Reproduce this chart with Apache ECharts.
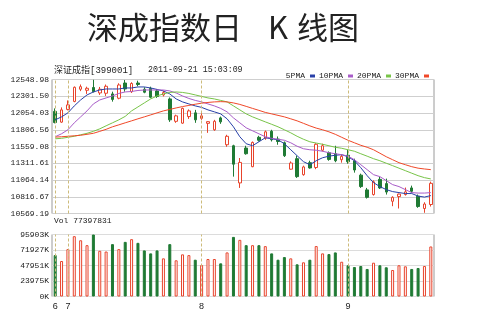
<!DOCTYPE html>
<html>
<head>
<meta charset="utf-8">
<script src="https://cdn.jsdelivr.net/npm/echarts@6/dist/echarts.min.js"></script>
<style>
html,body{margin:0;padding:0;background:#fff;}
#main{width:480px;height:314px;}
</style>
</head>
<body>
<div id="main"></div>
<script>
// trading days 2011-06-29 .. 2011-09-21
var dates = ['06-29','06-30',
  '07-01','07-04','07-05','07-06','07-07','07-08','07-11','07-12','07-13','07-14','07-15',
  '07-18','07-19','07-20','07-21','07-22','07-25','07-26','07-27','07-28','07-29',
  '08-01','08-02','08-03','08-04','08-05','08-08','08-09','08-10','08-11','08-12',
  '08-15','08-16','08-17','08-18','08-19','08-22','08-23','08-24','08-25','08-26',
  '08-29','08-30','08-31',
  '09-01','09-02','09-05','09-06','09-07','09-08','09-09','09-13','09-14','09-15',
  '09-16','09-19','09-20','09-21'];

var opens = [12078,11919,12107,12225,12405,12390,12431,12350,12346,12336,
  12272,12497,12369,12497,12405,12417,12380,12321,12262,11931,
  11904,12001,12056,11975,11901,11806,11982,11585,11570,11021,
  11536,11261,11695,11683,11784,11669,11614,11224,11379,11143,
  11320,11249,11504,11467,11452,11364,11430,11346,11136,10918,
  10849,11074,11011,10750,10819,10849,10947,10824,10643,10702];
var closes = [11913,12100,12174,12434,12443,12419,12369,12405,12449,12255,
  12468,12409,12490,12475,12361,12287,12299,12355,11953,12012,
  12122,12085,11953,12012,11926,11931,11923,11710,11298,11324,
  11452,11619,11651,11776,11658,11633,11423,11315,11114,11257,
  11242,11592,11570,11368,11349,11413,11335,11212,10967,10808,
  11037,10947,10886,10808,10856,10889,10897,10672,10709,11015];
var lows = [11901,11909,12093,12213,12377,12336,12358,12321,12306,12222,
  12257,12369,12350,12449,12346,12272,12277,12299,11923,11909,
  11894,11967,11909,11953,11761,11791,11894,11555,11114,10947,
  11438,11253,11633,11658,11633,11585,11404,11217,11095,11128,
  11232,11224,11486,11349,11327,11320,11305,11173,10947,10790,
  10834,10932,10849,10677,10643,10834,10874,10653,10580,10672];
var highs = [12122,12137,12240,12446,12475,12443,12545,12439,12475,12369,
  12493,12542,12508,12531,12434,12443,12409,12380,12284,12029,
  12134,12107,12100,12060,11934,11953,12001,11732,11585,11389,
  11570,11633,11717,11795,11806,11707,11633,11339,11423,11276,
  11349,11607,11600,11486,11570,11438,11511,11379,11158,10947,
  11059,11109,11084,10824,10863,10952,10981,10849,10735,11040];

// volume in K
var volumes = [64100,54900,73300,93300,87000,79400,95903,70700,69600,81000,
  73300,84500,88700,83000,71300,66700,71300,59000,81000,56000,
  65200,64000,56900,48700,58000,58000,51300,68200,92200,87600,
  79400,79400,79400,77900,66700,56900,61000,59000,49800,52900,
  56900,78000,66700,65600,68200,53800,48300,45600,47200,42600,
  52300,48300,45200,41000,48300,46700,42600,44100,47200,77398];

var ma5 = [11953,11997,12056,12159,12247,12321,12365,12394,12409,12409,
  12409,12424,12424,12439,12439,12424,12402,12380,12336,12262,
  12218,12188,12159,12137,12100,12071,12041,11968,11850,11703,
  11600,11570,11629,11688,11673,11658,11600,11511,11423,11335,
  11290,11349,11393,11416,11430,11438,11408,11349,11246,11128,
  11025,10967,10922,10893,10878,10864,10864,10827,10812,10834];
var ma10 = [11703,11747,11806,11909,11997,12085,12188,12247,12277,12306,
  12343,12365,12372,12387,12394,12394,12394,12394,12380,12350,
  12306,12269,12240,12218,12188,12159,12122,12071,11982,11909,
  11835,11791,11747,11703,11680,11666,11651,11614,11563,11526,
  11511,11504,11489,11467,11452,11438,11416,11364,11290,11217,
  11143,11114,11055,10996,10967,10922,10878,10871,10871,10878];
var ma20 = [11673,11680,11695,11710,11732,11754,11783,11820,11865,11909,
  11953,12004,12085,12144,12203,12262,12306,12336,12358,12365,
  12358,12343,12321,12299,12277,12262,12240,12218,12159,12100,
  12041,11997,11960,11923,11887,11850,11806,11761,11710,11666,
  11629,11610,11592,11570,11548,11533,11511,11489,11452,11416,
  11379,11349,11312,11276,11239,11202,11165,11128,11099,11080];
var ma30 = [11698,11703,11710,11717,11725,11739,11754,11783,11813,11850,
  11879,11909,11938,11968,11997,12026,12056,12085,12107,12129,
  12149,12166,12184,12199,12210,12218,12222,12218,12203,12181,
  12152,12122,12093,12063,12041,12019,11997,11968,11938,11901,
  11864,11831,11806,11776,11739,11695,11651,11614,11577,11548,
  11511,11460,11408,11364,11320,11290,11261,11239,11227,11217];

var priceTicks = ['10569.19','10816.67','11064.14','11311.61','11559.08','11806.56','12054.03','12301.50','12548.98'];
var volTicks = ['0K','23975K','47951K','71927K','95903K'];

var pMin = 10569.19, pMax = 12548.98, pStep = (pMax - pMin) / 8;
var vMax = 95903, vStep = vMax / 4;

var UP = '#e8442c', DOWN = '#1f7a34';
var MONO = "'Liberation Mono','Noto Sans CJK SC',monospace";
var TITLE_FONT = "31px 'Noto Sans CJK SC'";

var candleData = [], volData = [], monthMarks = [];
for (var i = 0; i < dates.length; i++) {
  candleData.push([opens[i], closes[i], lows[i], highs[i]]);
  var up = closes[i] >= opens[i];
  volData.push({value: volumes[i], itemStyle: {color: up ? '#fff' : DOWN, borderColor: up ? UP : DOWN, borderWidth: 1}});
  if (i == 0 || dates[i].slice(0, 2) != dates[i - 1].slice(0, 2)) monthMarks.push({xAxis: dates[i]});
}

var dashStyle = {color: '#cdbb7a', type: [3, 2], width: 1};

var chart = echarts.init(document.getElementById('main'), null, {renderer: 'canvas'});
chart.setOption({
  animation: false,
  backgroundColor: '#fff',
  graphic: [
    {type: 'text', left: 87, top: 12, style: {text: '深成指数日', font: TITLE_FONT, fill: '#222'}},
    {type: 'text', left: 268, top: 12, style: {text: 'K', font: TITLE_FONT, fill: '#222'}},
    {type: 'text', left: 297, top: 12, style: {text: '线图', font: TITLE_FONT, fill: '#222'}},
    {type: 'text', left: 54, top: 66, style: {text: '深证成指[399001]', font: '9px ' + MONO, fill: '#222'}},
    {type: 'text', left: 148, top: 66, style: {text: '2011-09-21 15:03:09', font: '8.3px ' + MONO, fill: '#222'}},
    {type: 'text', left: 54, top: 217, style: {text: 'Vol 77397831', font: '8px ' + MONO, fill: '#222'}}
  ],
  legend: {
    right: 46, top: 67, align: 'right', icon: 'rect', itemWidth: 5, itemHeight: 3, itemGap: 4,
    textStyle: {fontFamily: MONO, fontSize: 8, color: '#222'},
    data: ['5PMA', '10PMA', '20PMA', '30PMA']
  },
  grid: [
    {left: 52, top: 79.5, width: 382, height: 134, show: true, borderColor: '#9a9a9a', borderWidth: 1},
    {left: 52, top: 234.5, width: 382, height: 62, show: true, borderColor: '#9a9a9a', borderWidth: 1}
  ],
  xAxis: [
    {type: 'category', gridIndex: 0, data: dates, boundaryGap: true,
      axisLine: {show: false}, axisTick: {show: false}, axisLabel: {show: false}, splitLine: {show: false}},
    {type: 'category', gridIndex: 1, data: dates, boundaryGap: true,
      axisLine: {show: false}, axisTick: {show: false}, splitLine: {show: false},
      axisLabel: {
        interval: 0, margin: 6, fontSize: 9, color: '#222', fontFamily: 'Liberation Sans',
        formatter: function (v, idx) {
          if (idx == 0 || v.slice(0, 2) != dates[idx - 1].slice(0, 2)) return String(parseInt(v.slice(0, 2), 10));
          return '';
        }
      }}
  ],
  yAxis: [
    {type: 'value', gridIndex: 0, min: pMin, max: pMax, interval: pStep, scale: true,
      axisLine: {show: false}, axisTick: {show: false},
      axisLabel: {margin: 3, fontSize: 8, fontFamily: MONO, color: '#222',
        formatter: function (v) { return priceTicks[Math.round((v - pMin) / pStep)]; }},
      splitLine: {lineStyle: {color: '#cfcfcf', width: 1}}},
    {type: 'value', gridIndex: 1, min: 0, max: vMax, interval: vStep,
      axisLine: {show: false}, axisTick: {show: false},
      axisLabel: {margin: 3, fontSize: 8, fontFamily: MONO, color: '#222',
        formatter: function (v) { return volTicks[Math.round(v / vStep)]; }},
      splitLine: {lineStyle: {color: '#dcdcdc', width: 1}}}
  ],
  series: [
    {type: 'candlestick', name: 'K', xAxisIndex: 0, yAxisIndex: 0, data: candleData, barWidth: 3,
      itemStyle: {color: '#fff', color0: DOWN, borderColor: UP, borderColor0: DOWN, borderWidth: 1},
      markLine: {silent: true, symbol: ['none', 'none'], label: {show: false}, lineStyle: dashStyle, data: monthMarks}},
    {type: 'line', name: '5PMA', data: ma5, showSymbol: false, lineStyle: {width: 1, color: '#2840a8'}, itemStyle: {color: '#2840a8'}},
    {type: 'line', name: '10PMA', data: ma10, showSymbol: false, lineStyle: {width: 1, color: '#a85cc8'}, itemStyle: {color: '#a85cc8'}},
    {type: 'line', name: '20PMA', data: ma20, showSymbol: false, lineStyle: {width: 1, color: '#78c448'}, itemStyle: {color: '#78c448'}},
    {type: 'line', name: '30PMA', data: ma30, showSymbol: false, lineStyle: {width: 1, color: '#f04828'}, itemStyle: {color: '#f04828'}},
    {type: 'bar', name: 'Vol', xAxisIndex: 1, yAxisIndex: 1, data: volData, barWidth: 3,
      markLine: {silent: true, symbol: ['none', 'none'], label: {show: false}, lineStyle: dashStyle, data: monthMarks}}
  ]
});
</script>
</body>
</html>
